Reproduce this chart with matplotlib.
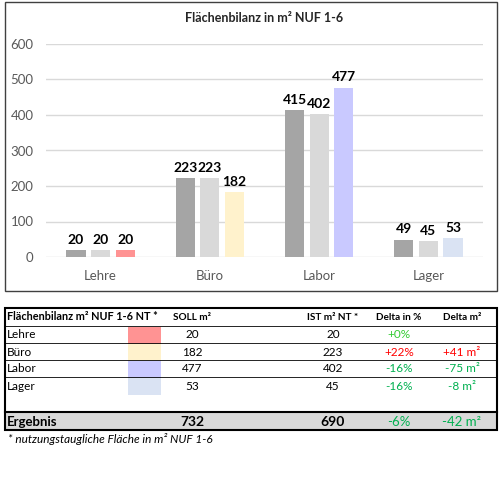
import matplotlib
matplotlib.use("Agg")
import matplotlib.pyplot as plt
from matplotlib.patches import Rectangle
import numpy as np

plt.rcParams['font.family'] = ['Lato', 'DejaVu Sans']

# data
categories = ["Lehre", "Büro", "Labor", "Lager"]
series_a = [20, 223, 415, 49]
series_b = [20, 223, 402, 45]
soll = [20, 182, 477, 53]
ist = [20, 223, 402, 45]
cat_colors = ["#ff9393", "#fff2cc", "#c9c9ff", "#dae3f3"]
delta_pct = ["+0%", "+22%", "-16%", "-16%"]
delta_m2 = ["", "+41 m²", "-75 m²", "-8 m²"]
delta_pct_colors = ["#33cc33", "#ff0000", "#00b050", "#00b050"]
delta_m2_colors = ["#00b050", "#ff0000", "#00b050", "#00b050"]
total_soll = 732
total_ist = 690
total_pct = "-6%"
total_m2 = "-42 m²"

W, H = 500, 479
fig = plt.figure(figsize=(W / 100, H / 100), dpi=100)

def px_axes(x0, y0, x1, y1):
    return fig.add_axes([x0 / W, 1 - y1 / H, (x1 - x0) / W, (y1 - y0) / H])

# chart frame
fig.patches.append(Rectangle((5 / W, 1 - 291 / H), 492 / W, 289 / H,
                             transform=fig.transFigure, fill=False,
                             edgecolor="#404040", linewidth=1.0))

ax = px_axes(46, 44, 483, 257)
x = np.arange(len(categories))
off, bw = 0.225, 0.175
b1 = ax.bar(x - off, series_a, bw, color="#a5a5a5", zorder=3)
b2 = ax.bar(x, series_b, bw, color="#d9d9d9", zorder=3)
b3 = ax.bar(x + off, soll, bw, color=cat_colors, zorder=3)
for bars in (b1, b2, b3):
    for r in bars:
        ax.annotate(f"{int(r.get_height())}", (r.get_x() + r.get_width() / 2, r.get_height()),
                    xytext=(0, 3), textcoords="offset points", ha="center", va="bottom",
                    fontsize=10, fontweight="bold", color="black")
ax.set_ylim(0, 600)
ax.set_xlim(-0.5, 3.5)
ax.set_yticks(range(0, 601, 100))
ax.set_xticks(x)
ax.set_xticklabels(categories)
ax.tick_params(length=0, labelsize=9.5, labelcolor="#595959")
ax.tick_params(axis="y", pad=9)
ax.tick_params(axis="x", pad=9)
ax.grid(axis="y", color="#d9d9d9", linewidth=1.0, zorder=0)
for s in ax.spines.values():
    s.set_visible(False)
ax.set_title("Flächenbilanz in m² NUF 1-6", fontsize=9, fontweight="bold",
             color="#262626", pad=16)

# table
tx = fig.add_axes([0, 0, 1, 1])
tx.set_xlim(0, W)
tx.set_ylim(H, 0)
tx.axis("off")

top, hdr_bot = 308, 326
row_h = 17
tot_top, tot_bot = 412, 430
tx.add_patch(Rectangle((5, tot_top), 492, tot_bot - tot_top, facecolor="#d9d9d9", edgecolor="none"))
tx.add_patch(Rectangle((5, top), 492, tot_bot - top, fill=False, edgecolor="black", linewidth=1.5))
tx.plot([5, 497], [tot_top, tot_top], color="black", linewidth=1.5)
tx.plot([5, 497], [hdr_bot, hdr_bot], color="black", linewidth=0.6)
for i in range(3):
    yy = hdr_bot + (i + 1) * row_h
    tx.plot([5, 497], [yy, yy], color="black", linewidth=0.6)

fs = 8.5
c_soll, c_ist, c_pct, c_m2 = 192, 333, 399, 462
hy = (top + hdr_bot) / 2
tx.text(7, hy, "Flächenbilanz m² NUF 1-6 NT *", fontsize=7.8, fontweight="bold", va="center")
tx.text(c_soll, hy, "SOLL m²", fontsize=7.2, fontweight="bold", va="center", ha="center")
tx.text(c_ist, hy, "IST m² NT *", fontsize=7.2, fontweight="bold", va="center", ha="center")
tx.text(c_pct, hy, "Delta in %", fontsize=7.2, fontweight="bold", va="center", ha="center")
tx.text(c_m2, hy, "Delta m²", fontsize=7.2, fontweight="bold", va="center", ha="center")

for i, cat in enumerate(categories):
    y0 = hdr_bot + i * row_h
    yc = y0 + row_h / 2 + 0.5
    tx.add_patch(Rectangle((128, y0 + 0.5), 33, row_h, facecolor=cat_colors[i], edgecolor="none"))
    tx.text(7, yc, cat, fontsize=fs, va="center")
    tx.text(c_soll, yc, str(soll[i]), fontsize=fs, va="center", ha="center")
    tx.text(c_ist, yc, str(ist[i]), fontsize=fs, va="center", ha="center")
    tx.text(c_pct, yc, delta_pct[i], fontsize=fs, va="center", ha="center", color=delta_pct_colors[i])
    tx.text(c_m2, yc, delta_m2[i], fontsize=fs, va="center", ha="center", color=delta_m2_colors[i])

ty = (tot_top + tot_bot) / 2 + 0.5
tx.text(7, ty, "Ergebnis", fontsize=9.5, fontweight="bold", va="center")
tx.text(c_soll, ty, str(total_soll), fontsize=10, fontweight="bold", va="center", ha="center")
tx.text(c_ist, ty, str(total_ist), fontsize=10, fontweight="bold", va="center", ha="center")
tx.text(c_pct, ty, total_pct, fontsize=9.5, va="center", ha="center", color="#00b050")
tx.text(c_m2, ty, total_m2, fontsize=9.5, va="center", ha="center", color="#00b050")
tx.text(8, 439, "* nutzungstaugliche Fläche in m² NUF 1-6", fontsize=8.5, style="italic", va="center")

fig.savefig("out.png", dpi=100)
